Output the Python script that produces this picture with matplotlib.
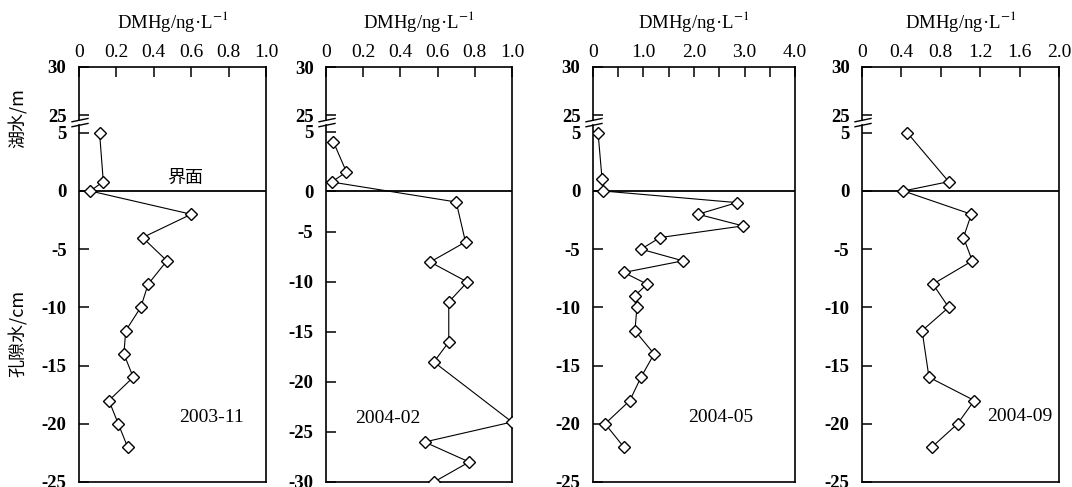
import numpy as np
import matplotlib
matplotlib.use("Agg")
import matplotlib.pyplot as plt

plt.rcParams["font.family"] = ["Liberation Serif", "Noto Sans CJK SC"]
plt.rcParams["mathtext.fontset"] = "stix"

# ---- data (lake water in m above interface, pore water in cm below) ----
p1_lake_depth = [5, 0.8]
p1_lake_conc = [0.11, 0.13]
p1_sed_depth = [0, -2, -4, -6, -8, -10, -12, -14, -16, -18, -20, -22]
p1_sed_conc = [0.06, 0.60, 0.34, 0.47, 0.37, 0.33, 0.25, 0.24, 0.29, 0.16, 0.21, 0.26]

p2_lake_depth = [4, 1, 0]
p2_lake_conc = [0.04, 0.11, 0.03]
p2_sed_depth = [-2, -6, -8, -10, -12, -16, -18, -24, -26, -28, -30]
p2_sed_conc = [0.70, 0.75, 0.56, 0.76, 0.66, 0.66, 0.58, 1.00, 0.53, 0.77, 0.58]

p3_lake_depth = [5, 1]
p3_lake_conc = [0.10, 0.18]
p3_sed_depth = [0, -1, -2, -3, -4, -5, -6, -7, -8, -9, -10, -12, -14, -16, -18, -20, -22]
p3_sed_conc = [0.20, 2.85, 2.08, 2.97, 1.33, 0.95, 1.78, 0.61, 1.07, 0.83, 0.87,
               0.83, 1.21, 0.95, 0.73, 0.24, 0.61]

p4_lake_depth = [5, 0.8]
p4_lake_conc = [0.46, 0.88]
p4_sed_depth = [0, -2, -4, -6, -8, -10, -12, -16, -18, -20, -22]
p4_sed_conc = [0.42, 1.11, 1.03, 1.12, 0.72, 0.88, 0.61, 0.68, 1.14, 0.97, 0.71]

dates = ["2003-11", "2004-02", "2004-05", "2004-09"]
xmax = [1.0, 1.0, 4.0, 2.0]
xticks = [[0, 0.2, 0.4, 0.6, 0.8, 1.0], [0, 0.2, 0.4, 0.6, 0.8, 1.0],
          [0, 1.0, 2.0, 3.0, 4.0], [0, 0.4, 0.8, 1.2, 1.6, 2.0]]
xticklabels = [["0", "0.2", "0.4", "0.6", "0.8", "1.0"],
               ["0", "0.2", "0.4", "0.6", "0.8", "1.0"],
               ["0", "1.0", "2.0", "3.0", "4.0"],
               ["0", "0.4", "0.8", "1.2", "1.6", "2.0"]]
sed_bottom = [-25, -30, -25, -25]
sed_ticks = [[-25, -20, -15, -10, -5], [-30, -25, -20, -15, -10, -5],
             [-25, -20, -15, -10, -5], [-25, -20, -15, -10, -5]]

panels = [
    (p1_lake_depth, p1_lake_conc, p1_sed_depth, p1_sed_conc),
    (p2_lake_depth, p2_lake_conc, p2_sed_depth, p2_sed_conc),
    (p3_lake_depth, p3_lake_conc, p3_sed_depth, p3_sed_conc),
    (p4_lake_depth, p4_lake_conc, p4_sed_depth, p4_sed_conc),
]

# ---- layout (pixels of the 1072x487 canvas) ----
W, H = 1072, 487
left_px = [79, 326, 593, 862]
width_px = [187, 186, 202, 197]
top_px, bottom_px = 67, 482
ylim_top = [10.65, 11.5, 10.65, 10.65]
zero_line = [0, -0.9, 0, 0]        # interface line as drawn in the original
date_pos = [(0.71, 0.155), (0.33, 0.152), (0.63, 0.155), (0.80, 0.157)]

fig = plt.figure(figsize=(W / 100, H / 100), dpi=100)

for i, (lk_d, lk_c, sd_d, sd_c) in enumerate(panels):
    ax = fig.add_axes([left_px[i] / W, 1 - bottom_px / H,
                       width_px[i] / W, (bottom_px - top_px) / H])
    lo, hi = sed_bottom[i], ylim_top[i]
    ax.set_xlim(0, xmax[i])
    ax.set_ylim(lo, hi)

    depth = np.concatenate([np.array(lk_d, float), np.array(sd_d, float)])
    conc = np.concatenate([np.array(lk_c, float), np.array(sd_c, float)])
    ax.plot(conc, depth, color="black", lw=0.8, marker="D", ms=6,
            mfc="white", mec="black", mew=1.0, zorder=3)
    ax.axhline(zero_line[i], color="black", lw=1.3, zorder=2)

    # broken y axis: 25/30 m on top of the 0-5 m lake scale
    f = lambda frac: lo + frac * (hi - lo)
    yt = sed_ticks[i] + [zero_line[i], 5, f(0.884), hi]
    ylab = [str(v) for v in sed_ticks[i]] + ["0", "5", "25", "30"]
    ax.set_yticks(yt)
    ax.set_yticklabels(ylab, fontsize=13.5, fontweight="bold")
    ax.tick_params(axis="y", direction="in", length=7, width=1.1, pad=9)

    ax.xaxis.tick_top()
    ax.set_xticks(xticks[i])
    ax.set_xticklabels(xticklabels[i], fontsize=14)
    if i == 2:
        ax.set_xticks(np.arange(0.5, 4.0, 1.0), minor=True)
        ax.tick_params(axis="x", which="minor", direction="in", length=7,
                       width=1.1, top=True, bottom=False)
    ax.tick_params(axis="x", direction="in", length=7, width=1.1, pad=4)
    ax.xaxis.set_label_position("top")
    ax.set_xlabel(r"DMHg/ng·L$^{-1}$", fontsize=13.5, labelpad=12)

    for s in ["top", "right", "bottom"]:
        ax.spines[s].set_linewidth(1.2)
    ax.spines["left"].set_visible(False)
    gap_lo, gap_hi = 0.860, 0.872
    ax.plot([0, 0], [0, gap_lo], transform=ax.transAxes, color="black",
            lw=1.2, clip_on=False)
    ax.plot([0, 0], [gap_hi, 1], transform=ax.transAxes, color="black",
            lw=1.2, clip_on=False)
    dx0, dx1 = -7 / width_px[i], 9 / width_px[i]
    for g in (gap_lo, gap_hi):
        ax.plot([dx0, dx1], [g - 0.004, g + 0.004], transform=ax.transAxes,
                color="black", lw=1.0, clip_on=False)

    ax.text(date_pos[i][0], date_pos[i][1], dates[i], transform=ax.transAxes,
            ha="center", va="center", fontsize=14)

fig.text(185 / W, 1 - 178 / H, "界面", ha="center", va="center", fontsize=13,
         family=["Noto Sans CJK SC"])
fig.text(18 / W, 1 - 118 / H, "湖水/m", rotation=90, ha="center", va="center",
         fontsize=13, family=["Noto Sans CJK SC"])
fig.text(18 / W, 1 - 333 / H, "孔隙水/cm", rotation=90, ha="center",
         va="center", fontsize=13, family=["Noto Sans CJK SC"])

fig.savefig("out.png", dpi=100)
